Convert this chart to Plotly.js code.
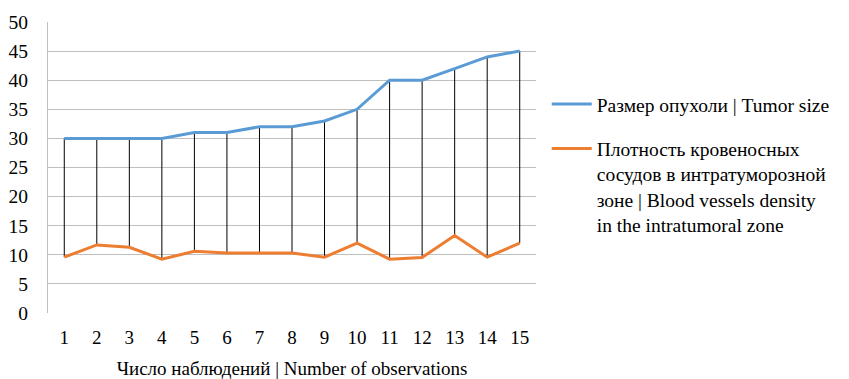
<!DOCTYPE html>
<html>
<head>
<meta charset="utf-8">
<script src="https://cdn.plot.ly/plotly-3.0.1.min.js"></script>
<style>html,body{margin:0;padding:0;background:#fff;}#chart{width:849px;height:379px;}</style>
</head>
<body>
<div id="chart"></div>
<script>
const observations = [1,2,3,4,5,6,7,8,9,10,11,12,13,14,15];
const tumorSize = [30,30,30,30,31,31,32,32,33,35,40,40,42,44,45];
const vesselDensity = [9.6,11.7,11.3,9.25,10.6,10.3,10.3,10.3,9.6,12.0,9.25,9.55,13.3,9.6,12.0];
const tumorName = 'Размер опухоли | Tumor size';
const vesselName = 'Плотность кровеносных<br>сосудов в интратуморозной<br>зоне | Blood vessels density<br>in the intratumoral zone';
const xTitle = 'Число наблюдений | Number of observations';
const yTicks = [0,5,10,15,20,25,30,35,40,45,50];

// high-low connector lines built from the two series
const hlX = [], hlY = [];
observations.forEach((o, i) => {
  hlX.push(o, o, null);
  hlY.push(vesselDensity[i], tumorSize[i], null);
});

const FAM = 'Liberation Serif, serif';
const mkFont = (s) => ({family: FAM, size: s, color: '#000'});

const data = [
  {x: hlX, y: hlY, mode: 'lines', line: {color: '#000', width: 1}, showlegend: false, hoverinfo: 'skip'},
  {x: observations, y: tumorSize, name: tumorName, mode: 'lines', line: {color: '#5b9bd5', width: 3}, legendgroup: 'a'},
  {x: observations, y: vesselDensity, name: vesselName, mode: 'lines', line: {color: '#ed7d31', width: 3}, legendgroup: 'b'}
];

const layout = {
  width: 849, height: 379,
  margin: {l: 48, r: 313, t: 22, b: 66, autoexpand: false},
  paper_bgcolor: '#fff', plot_bgcolor: '#fff',
  font: mkFont(19),
  showlegend: true,
  legend: {x: 1.022, y: 0.784, xanchor: 'left', yanchor: 'top', font: mkFont(19.5), valign: 'top', itemwidth: 40, tracegroupgap: 16, traceorder: 'grouped', bgcolor: 'rgba(0,0,0,0)'},
  xaxis: {
    range: [0.5, 15.5], tickvals: observations, ticktext: observations.map(String),
    showgrid: false, zeroline: false, showline: false, ticks: '',
    tickfont: mkFont(19),
    ticklabelstandoff: 11,
    title: {text: xTitle, font: mkFont(19), standoff: 15}
  },
  yaxis: {
    range: [0, 50], tickvals: yTicks, showgrid: true, gridcolor: '#bfbfbf', gridwidth: 1,
    zeroline: false, showline: true, linecolor: '#bfbfbf', linewidth: 1, ticks: '',
    tickfont: mkFont(19.5),
    ticklabelstandoff: 15
  }
};

Plotly.newPlot('chart', data, layout, {displayModeBar: false, staticPlot: true});
</script>
</body>
</html>
